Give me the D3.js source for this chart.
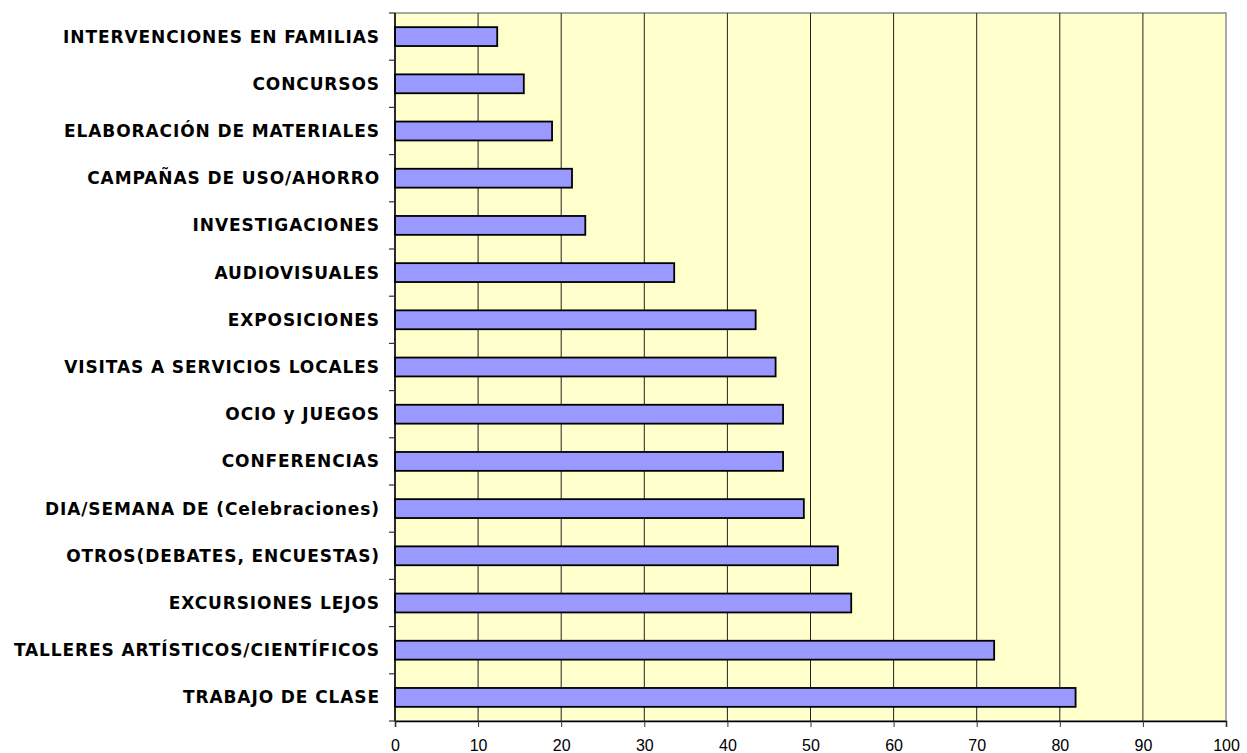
<!DOCTYPE html>
<html>
<head>
<meta charset="utf-8">
<script src="https://cdn.jsdelivr.net/npm/d3@7"></script>
<style>
  html, body { margin: 0; padding: 0; background: #ffffff; }
  svg { display: block; }
</style>
</head>
<body>
<svg id="chart" width="1247" height="753"></svg>
<script>
const categories = [
  "INTERVENCIONES EN FAMILIAS",
  "CONCURSOS",
  "ELABORACIÓN DE MATERIALES",
  "CAMPAÑAS DE USO/AHORRO",
  "INVESTIGACIONES",
  "AUDIOVISUALES",
  "EXPOSICIONES",
  "VISITAS A SERVICIOS LOCALES",
  "OCIO y JUEGOS",
  "CONFERENCIAS",
  "DIA/SEMANA DE (Celebraciones)",
  "OTROS(DEBATES, ENCUESTAS)",
  "EXCURSIONES LEJOS",
  "TALLERES ARTÍSTICOS/CIENTÍFICOS",
  "TRABAJO DE CLASE"
];
const values = [12.3, 15.5, 18.9, 21.3, 22.9, 33.6, 43.4, 45.8, 46.7, 46.7, 49.2, 53.3, 54.9, 72.1, 81.9];
const xTicks = [0, 10, 20, 30, 40, 50, 60, 70, 80, 90, 100];

const svg = d3.select("#chart");
const margin = { left: 395, top: 13, right: 21, bottom: 32 };
const W = 1247, H = 753;
const x0 = margin.left, x1 = W - margin.right, y0 = margin.top, y1 = H - margin.bottom;

const x = d3.scaleLinear().domain([0, 100]).range([x0, x1]);
const y = d3.scaleBand().domain(categories).range([y0, y1]).paddingInner(0.6).paddingOuter(0.3);

// plot background
svg.append("rect")
  .attr("x", x0).attr("y", y0)
  .attr("width", x1 - x0).attr("height", y1 - y0)
  .attr("fill", "#FFFFCC")
  .attr("stroke", "#8c8c8c").attr("stroke-width", 1.5);

// gridlines
svg.append("g").selectAll("line")
  .data(xTicks.filter(d => d > 0 && d < 100))
  .join("line")
  .attr("x1", d => x(d)).attr("x2", d => x(d))
  .attr("y1", y0).attr("y2", y1)
  .attr("stroke", "#222").attr("stroke-width", 1);

// bars
svg.append("g").selectAll("rect")
  .data(categories)
  .join("rect")
  .attr("x", x(0))
  .attr("y", d => y(d))
  .attr("width", (d, i) => x(values[i]) - x(0))
  .attr("height", y.bandwidth())
  .attr("fill", "#9999FF")
  .attr("stroke", "#000").attr("stroke-width", 1.8);

// left axis (ticks at band boundaries)
const boundaries = d3.range(categories.length + 1).map(i => y0 + i * ((y1 - y0) / categories.length));
const leftAxis = svg.append("g");
leftAxis.append("line")
  .attr("x1", x0).attr("x2", x0).attr("y1", y0).attr("y2", y1)
  .attr("stroke", "#000").attr("stroke-width", 1.5);
leftAxis.selectAll("line.t").data(boundaries).join("line").attr("class", "t")
  .attr("x1", x0 - 6).attr("x2", x0).attr("y1", d => d).attr("y2", d => d)
  .attr("stroke", "#333").attr("stroke-width", 1.2);
leftAxis.selectAll("text").data(categories).join("text")
  .attr("x", x0 - 15)
  .attr("y", d => y(d) + y.bandwidth() / 2)
  .attr("text-anchor", "end")
  .attr("dominant-baseline", "central")
  .attr("font-family", "'DejaVu Sans', Verdana, sans-serif")
  .attr("font-weight", "bold")
  .attr("font-size", 17)
  .attr("letter-spacing", 0.9)
  .attr("fill", "#000")
  .text(d => d);

// bottom axis
const xAxis = d3.axisBottom(x).tickValues(xTicks).tickSize(6).tickPadding(13).tickFormat(d3.format("d"));
const gx = svg.append("g").attr("transform", `translate(0,${y1})`).call(xAxis);
gx.select(".domain").attr("stroke", "#000").attr("stroke-width", 1.5);
gx.selectAll(".tick line").attr("stroke", "#333");
gx.selectAll("text")
  .attr("font-family", "'Liberation Sans', Arial, sans-serif")
  .attr("font-size", 16)
  .attr("fill", "#000");
</script>
</body>
</html>
